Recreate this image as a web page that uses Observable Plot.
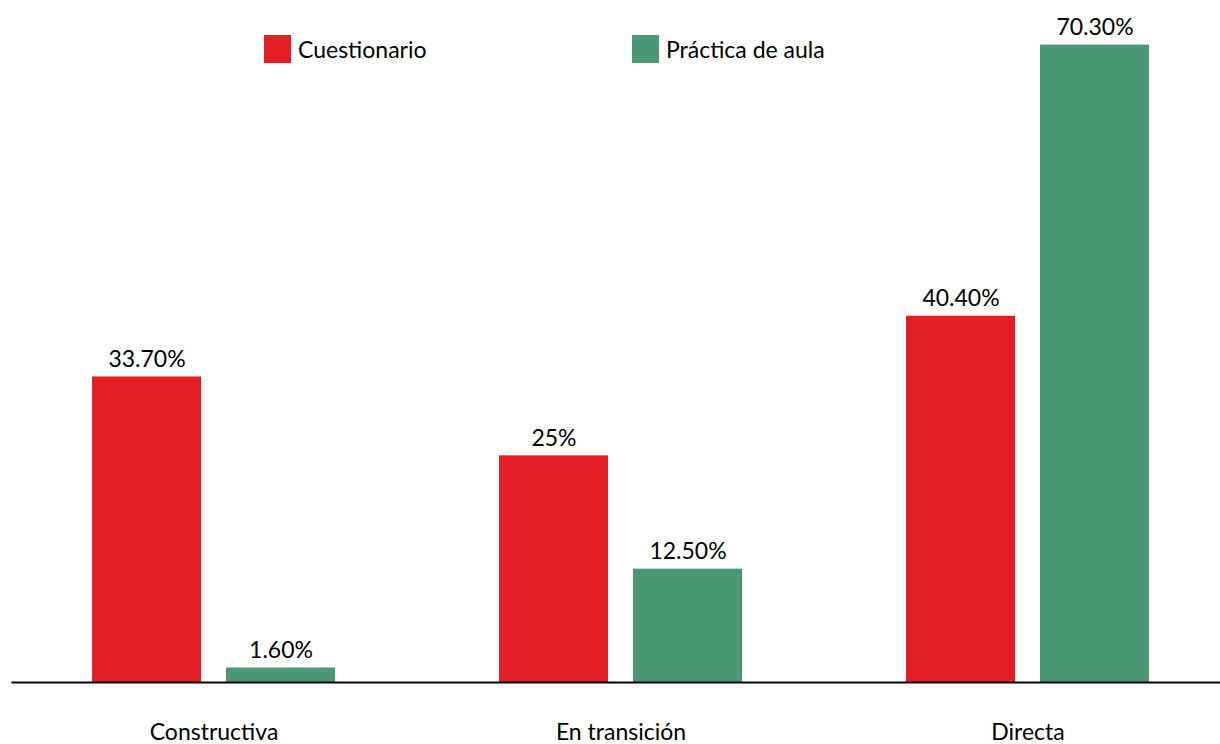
<!DOCTYPE html>
<html>
<head>
<meta charset="utf-8">
<script src="https://cdn.jsdelivr.net/npm/d3@7"></script>
<script src="https://cdn.jsdelivr.net/npm/@observablehq/plot@0.6"></script>
<style>
  html, body { margin: 0; padding: 0; background: #fff; }
  #wrap { position: relative; width: 1220px; height: 744px; font-family: Lato, "Noto Sans", sans-serif; }
  .leg { position: absolute; top: 35px; display: flex; align-items: center; font-size: 23px; color: #000; }
  .sw { width: 27px; height: 28px; margin-right: 7px; }
</style>
</head>
<body>
<div id="wrap"></div>
<script>
const categories = ["Constructiva", "En transición", "Directa"];
const series = ["Cuestionario", "Práctica de aula"];
const colors = ["#E31F26", "#4A9874"];
const cuestionario = [33.7, 25, 40.4];
const practica = [1.6, 12.5, 70.3];
const labelsCuestionario = ["33.70%", "25%", "40.40%"];
const labelsPractica = ["1.60%", "12.50%", "70.30%"];

const rows = [];
categories.forEach((c, i) => {
  rows.push({cat: c, series: series[0], value: cuestionario[i], label: labelsCuestionario[i]});
  rows.push({cat: c, series: series[1], value: practica[i], label: labelsPractica[i]});
});

const chart = Plot.plot({
  width: 1220,
  height: 744,
  marginLeft: 11,
  marginRight: 0,
  marginTop: 2,
  marginBottom: 62,
  style: {fontFamily: "Lato, 'Noto Sans', sans-serif", fontSize: "23px", color: "#000", background: "#fff"},
  fx: {domain: categories, paddingInner: 0.399, paddingOuter: 0.183, align: 0.53, label: null},
  x: {domain: series, paddingInner: 0.185, paddingOuter: 0, axis: null},
  y: {domain: [0, 75], axis: null},
  color: {domain: series, range: colors},
  marks: [
    Plot.barY(rows, {fx: "cat", x: "series", y: "value", fill: "series"}),
    Plot.text(rows, {fx: "cat", x: "series", y: "value", text: "label", lineAnchor: "bottom", dy: -10, fontSize: 23, fill: "#000"}),
    Plot.frame({facet: "super", anchor: "bottom", stroke: "#000", strokeWidth: 2, insetLeft: -79, insetRight: -72}),
    Plot.axisFx({anchor: "bottom", tickSize: 0, tickPadding: 41, fontSize: 23, label: null, fill: "#000"})
  ]
});

const wrap = document.getElementById("wrap");
wrap.appendChild(chart);

const legendPos = [264, 632];
series.forEach((s, i) => {
  const d = document.createElement("div");
  d.className = "leg";
  d.style.left = legendPos[i] + "px";
  const sw = document.createElement("div");
  sw.className = "sw";
  sw.style.background = colors[i];
  const t = document.createElement("span");
  t.textContent = s;
  d.appendChild(sw);
  d.appendChild(t);
  wrap.appendChild(d);
});
chart.style.position = "absolute";
chart.style.left = "0";
chart.style.top = "0";
</script>
</body>
</html>
